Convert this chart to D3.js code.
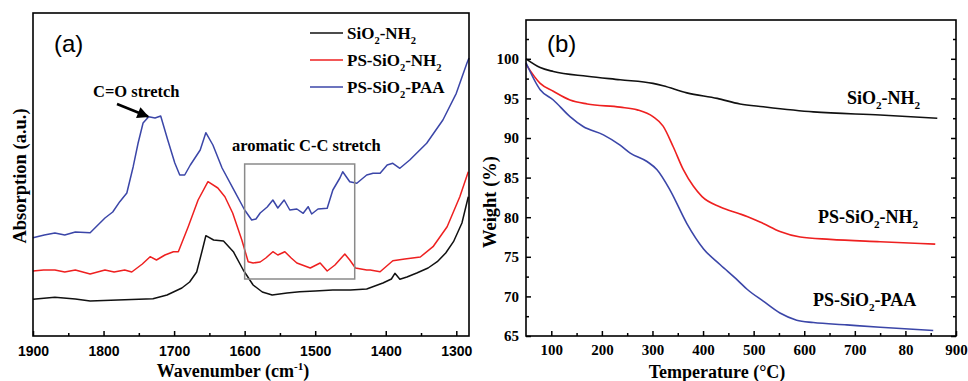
<!DOCTYPE html>
<html><head><meta charset="utf-8">
<script src="https://cdn.jsdelivr.net/npm/d3@7"></script>
<style>body{margin:0;background:#fff}svg{display:block}</style>
</head><body>
<svg id="c" width="968" height="381"></svg>
<script>
// ---------- Panel (a): FTIR ----------
const ftirTicks = [1900, 1800, 1700, 1600, 1500, 1400, 1300];
const ftirMinor = [1850, 1750, 1650, 1550, 1450, 1350];

const siNH2_wn  = [1900,1869,1840,1819,1780,1730,1710,1689,1678,1668,1660,1655,1644,1630,1616,1602,1588,1575,1561,1540,1522,1500,1475,1450,1427,1404,1392,1387,1380,1370,1356,1340,1327,1315,1304,1292,1283];
const siNH2_abs = [36.7,38.7,37,35,36,37.3,41,48,54,64,86,100.3,96,95,84.3,66,51,44,41,43,44.3,45,46,46,47,53,57,62.7,56.7,59,63,68,74.3,83,94.3,113,139.3];

const psNH2_wn  = [1900,1885,1869,1855,1840,1819,1798,1785,1770,1760,1745,1734,1725,1713,1701,1694,1680,1666,1652,1638,1628,1617,1604,1595,1588,1578,1570,1560,1553,1543,1534,1526,1507,1493,1483,1472,1458,1451,1443,1427,1422,1408,1390,1373,1351,1333,1313,1295,1283];
const psNH2_abs = [65,66,66,64,66,62,66,64,66,64,72,79.3,76,81,84.3,84.3,109.3,136,154.3,148,139.3,123,96,74.3,73,74,78,84.3,81,84.3,78,73,68,73,65,71,82,76,68,66,66,64.3,75.3,77,79,89.3,109.3,139.3,164.3];

const psPAA_wn  = [1900,1884,1869,1855,1840,1819,1798,1787,1777,1767,1758,1751,1744,1736,1727,1719,1709,1699,1692,1685,1677,1663,1655,1645,1632,1614,1600,1590,1584,1578,1568,1560,1553,1544,1536,1526,1517,1510,1505,1496,1483,1475,1465,1461,1451,1441,1427,1418,1408,1398,1390,1380,1366,1342,1319,1300,1285,1282];
const psPAA_abs = [98.3,101,103,101,104,103.3,118,124,134.3,143,169.3,193,213,219.3,218,220,196,173,161,161,171,186,203.3,191,168,144.3,126,116,117,123,129,136,128,136,126,127,122.7,129.3,122,127,127.7,146,158,164.3,154.3,152.7,161,162.7,162.7,171,172.7,167.7,176,192.7,216,242.7,272.7,278];

const aromaticBoxWn  = [1600, 1444];
const aromaticBoxAbs = [57, 172];

// ---------- Panel (b): TGA ----------
const tgaTicksX = [100, 200, 300, 400, 500, 600, 700, 800, 900];
const tgaTickLabelsX = ["100", "200", "300", "400", "500", "600", "700", "80", "900"];
const tgaTicksY = [65, 70, 75, 80, 85, 90, 95, 100];

const siNH2_T = [50,78,104,171,236,301,321,368,428,473,519,618,750,863];
const siNH2_W = [100,98.9,98.4,97.8,97.35,96.9,96.6,95.7,95.0,94.3,93.95,93.3,92.9,92.5];

const psNH2_T = [50,78,104,137,171,236,270,301,321,341,361,381,398,434,469,487,519,552,592,651,750,859];
const psNH2_W = [99.3,96.9,95.9,94.8,94.3,93.9,93.55,92.7,91.5,88.9,86.0,83.9,82.6,81.3,80.5,80.1,79.2,78.2,77.5,77.2,76.9,76.6];

const psPAA_T = [50,78,104,137,163,203,236,256,290,309,335,368,401,434,469,487,519,552,585,618,684,750,855];
const psPAA_W = [99.5,96.1,94.8,92.7,91.45,90.4,89.1,88.1,87.0,86.0,83.4,79.2,76.0,74.0,72.0,70.9,69.4,67.9,67.0,66.7,66.4,66.1,65.7];

const seriesNames = ["SiO_2-NH_2", "PS-SiO_2-NH_2", "PS-SiO_2-PAA"];
const seriesColors = ["#111111", "#ee2020", "#3b46a8"];

// ---------- drawing ----------
const SERIF = "'Liberation Serif','Times New Roman',serif";
const SANS = "'Liberation Sans',Arial,sans-serif";
const svg = d3.select("#c");

function rich(text, s, fs) {
  const re = /_(\d)|\^\{([^}]*)\}|([^_^]+)/g; let m, shift = 0;
  while ((m = re.exec(s))) {
    if (m[1]) { text.append("tspan").attr("font-size", fs * 0.62).attr("dy", fs * 0.3).text(m[1]); shift = fs * 0.3; }
    else if (m[2]) { text.append("tspan").attr("font-size", fs * 0.62).attr("dy", -fs * 0.4).text(m[2]); shift = -fs * 0.4; }
    else { text.append("tspan").attr("dy", -shift).text(m[3]); shift = 0; }
  }
}
function label(x, y, s, fs, opts = {}) {
  const t = svg.append("text").attr("x", x).attr("y", y)
    .attr("font-family", opts.family || SERIF).attr("font-weight", opts.weight || "bold")
    .attr("font-size", fs).attr("fill", "#000");
  if (opts.anchor) t.attr("text-anchor", opts.anchor);
  if (opts.rotate) t.attr("transform", `rotate(-90,${x},${y})`);
  rich(t, s, fs);
  return t;
}

// ===== Panel A =====
const ax = d3.scaleLinear().domain([1900, 1282]).range([33, 469]);
const ay = d3.scaleLinear().domain([0, 323]).range([336, 13]);

const gA = svg.append("g");
const aSeries = [[siNH2_wn, siNH2_abs], [psNH2_wn, psNH2_abs], [psPAA_wn, psPAA_abs]];
const lineA = d3.line().x(d => ax(d[0])).y(d => ay(d[1]));
aSeries.forEach((s, i) => {
  const pts = s[0].map((w, j) => [w, s[1][j]]);
  gA.append("path").attr("d", lineA(pts)).attr("fill", "none")
    .attr("stroke", seriesColors[i]).attr("stroke-width", 1.5).attr("stroke-linejoin", "round");
});

// aromatic box
gA.append("rect").attr("x", ax(aromaticBoxWn[0])).attr("y", ay(aromaticBoxAbs[1]))
  .attr("width", ax(aromaticBoxWn[1]) - ax(aromaticBoxWn[0]))
  .attr("height", ay(aromaticBoxAbs[0]) - ay(aromaticBoxAbs[1]))
  .attr("fill", "none").attr("stroke", "#8a8a8a").attr("stroke-width", 1.5);

// x axis
const axA = gA.append("g").attr("transform", "translate(0,336)")
  .call(d3.axisBottom(ax).tickValues(ftirTicks).tickSize(-5).tickPadding(10).tickFormat(d3.format("d")));
axA.select(".domain").remove();
axA.selectAll("line").attr("stroke", "#000").attr("stroke-width", 1.5);
axA.selectAll("text").attr("font-family", SANS).attr("font-weight", "bold").attr("font-size", 14).attr("fill", "#000");
const axAm = gA.append("g").attr("transform", "translate(0,336)")
  .call(d3.axisBottom(ax).tickValues(ftirMinor).tickSize(-3).tickFormat(""));
axAm.select(".domain").remove();
axAm.selectAll("line").attr("stroke", "#000").attr("stroke-width", 1.5);

gA.append("rect").attr("x", 33).attr("y", 13).attr("width", 436).attr("height", 323)
  .attr("fill", "none").attr("stroke", "#000").attr("stroke-width", 1.6);

// legend
const legY = [33, 60, 87];
seriesNames.forEach((n, i) => {
  gA.append("line").attr("x1", 310).attr("x2", 343).attr("y1", legY[i]).attr("y2", legY[i])
    .attr("stroke", seriesColors[i]).attr("stroke-width", 1.5);
  label(347, legY[i] + 5.5, n, 17);
});

label(54, 52, "(a)", 24, { family: SANS, weight: "normal" });
label(93, 97, "C=O stretch", 16.5);
label(232, 151, "aromatic C-C stretch", 16.5);

// arrow
const defs = svg.append("defs");
defs.append("marker").attr("id", "ah").attr("viewBox", "0 0 10 10").attr("refX", 9).attr("refY", 5)
  .attr("markerWidth", 5).attr("markerHeight", 4.5).attr("orient", "auto").attr("markerUnits", "strokeWidth")
  .append("path").attr("d", "M0,0L10,5L0,10z").attr("fill", "#000");
gA.append("line").attr("x1", 117).attr("y1", 104).attr("x2", 148).attr("y2", 116.5)
  .attr("stroke", "#000").attr("stroke-width", 2.6).attr("marker-end", "url(#ah)");

label(233, 377, "Wavenumber (cm^{-1})", 18, { anchor: "middle" });
label(26, 176, "Absorption (a.u.)", 18.5, { anchor: "middle", rotate: true });

// ===== Panel B =====
const bx = d3.scaleLinear().domain([50, 900]).range([526, 956]);
const by = d3.scaleLinear().domain([65, 104.9]).range([336, 20]);
const gB = svg.append("g");
const lineB = d3.line().x(d => bx(d[0])).y(d => by(d[1])).curve(d3.curveMonotoneX);
const bSeries = [[siNH2_T, siNH2_W], [psNH2_T, psNH2_W], [psPAA_T, psPAA_W]];
bSeries.forEach((s, i) => {
  const pts = s[0].map((t, j) => [t, s[1][j]]);
  gB.append("path").attr("d", lineB(pts)).attr("fill", "none")
    .attr("stroke", seriesColors[i]).attr("stroke-width", 1.6);
});

function styleAxis(g, withText) {
  g.select(".domain").remove();
  g.selectAll("line").attr("stroke", "#000").attr("stroke-width", 1.5);
  if (withText) g.selectAll("text").attr("font-family", SERIF).attr("font-weight", "bold").attr("font-size", 15).attr("fill", "#000");
}
const bxMinor = [150, 250, 350, 450, 550, 650, 750, 850];
const byMinor = d3.range(67.5, 105, 5);

styleAxis(gB.append("g").attr("transform", "translate(0,336)")
  .call(d3.axisBottom(bx).tickValues(tgaTicksX).tickSize(-5).tickPadding(8)
    .tickFormat((d, i) => tgaTickLabelsX[i])), true);
styleAxis(gB.append("g").attr("transform", "translate(0,336)")
  .call(d3.axisBottom(bx).tickValues(bxMinor).tickSize(-3).tickFormat("")), false);
styleAxis(gB.append("g").attr("transform", "translate(526,0)")
  .call(d3.axisLeft(by).tickValues(tgaTicksY).tickSize(-5).tickPadding(7).tickFormat(d3.format("d"))), true);
styleAxis(gB.append("g").attr("transform", "translate(526,0)")
  .call(d3.axisLeft(by).tickValues(byMinor).tickSize(-3).tickFormat("")), false);
styleAxis(gB.append("g").attr("transform", "translate(956,0)")
  .call(d3.axisRight(by).tickValues(tgaTicksY).tickSize(-5).tickFormat("")), false);
styleAxis(gB.append("g").attr("transform", "translate(956,0)")
  .call(d3.axisRight(by).tickValues(byMinor).tickSize(-3).tickFormat("")), false);

gB.append("rect").attr("x", 526).attr("y", 20).attr("width", 430).attr("height", 316)
  .attr("fill", "none").attr("stroke", "#000").attr("stroke-width", 1.6);

label(547, 52, "(b)", 24, { family: SANS, weight: "normal" });
label(847, 104, seriesNames[0], 18);
label(818, 223, seriesNames[1], 18);
label(813, 306, seriesNames[2], 18);

label(717, 378, "Temperature (°C)", 18, { anchor: "middle" });
label(496, 202, "Weight (%)", 18.5, { anchor: "middle", rotate: true });
</script>
</body></html>
